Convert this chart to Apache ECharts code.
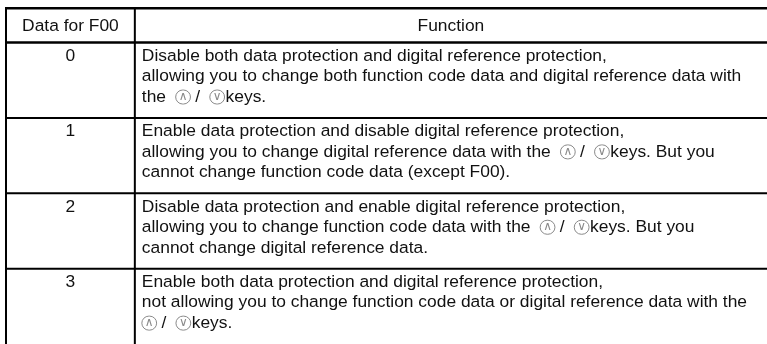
<!DOCTYPE html>
<html>
<head>
<meta charset="utf-8">
<script src="https://cdn.jsdelivr.net/npm/echarts/dist/echarts.min.js"></script>
<style>
html,body{margin:0;padding:0;background:#fff;}
#chart{width:767px;height:344px;}
</style>
</head>
<body>
<div id="chart"></div>
<script>
// ---- table content ----
var headers = ['Data for F00', 'Function'];
var codes = ['0', '1', '2', '3'];
var functionLines = [
  ['Disable both data protection and digital reference protection,',
   'allowing you to change both function code data and digital reference data with',
   'the  {up|∧}{g| /  }{dn|∨}{k|keys.}'],
  ['Enable data protection and disable digital reference protection,',
   'allowing you to change digital reference data with the  {up|∧}{g| /  }{dn|∨}{k|keys. But you}',
   'cannot change function code data (except F00).'],
  ['Disable data protection and enable digital reference protection,',
   'allowing you to change function code data with the  {up|∧}{g| /  }{dn|∨}{k|keys. But you}',
   'cannot change digital reference data.'],
  ['Enable both data protection and digital reference protection,',
   'not allowing you to change function code data or digital reference data with the',
   '{up|∧}{g| /  }{dn|∨}{k|keys.}']
];

// ---- layout (row units: one body row = 1) ----
var headerUnits = 0.454;
var colSplit = 0.1693;
var FONT = '"Liberation Sans", Arial, Helvetica, sans-serif';
var FS = 17.4;
var LH = 20.5;

var iconStyle = {
  padding: [1, 3, 1, 3], borderRadius: 8, borderColor: '#8a8a8a', borderWidth: 1,
  verticalAlign: 'middle', fontSize: 12, fontFamily: 'DejaVu Sans',
  fill: '#8a8a8a', color: '#8a8a8a', lineHeight: 13
};
var rich = {
  up: Object.assign({}, iconStyle),
  dn: Object.assign({}, iconStyle),
  g: {fontSize: FS, fontFamily: FONT, fill: '#111', color: '#111', lineHeight: LH},
  k: {fontSize: FS, fontFamily: FONT, fill: '#111', color: '#111', lineHeight: LH, padding: [0,0,0,1]}
};

var rowsData = [];
rowsData.push({value: [0, 0, headerUnits], kind: 'header'});
codes.forEach(function (c, i) {
  rowsData.push({value: [i + 1, headerUnits + i, headerUnits + i + 1], kind: 'row'});
});

function renderItem(params, api) {
  var idx = params.dataIndex;
  var item = rowsData[idx];
  var yTop = api.coord([0, item.value[1]])[1];
  var yBot = api.coord([0, item.value[2]])[1];
  var xL = api.coord([0, 0])[0];
  var xD = api.coord([colSplit, 0])[0];
  var xR = api.coord([1, 0])[0];
  var lineStyle = {stroke: '#000', lineWidth: (idx <= 1) ? 2.5 : 2};
  var children = [
    {type: 'line', shape: {x1: xL - 1, y1: yTop, x2: xR, y2: yTop}, style: lineStyle},
    {type: 'line', shape: {x1: xL, y1: yTop, x2: xL, y2: yBot}, style: {stroke: '#000', lineWidth: 2}},
    {type: 'line', shape: {x1: xD, y1: yTop, x2: xD, y2: yBot}, style: {stroke: '#000', lineWidth: 2}}
  ];
  if (item.kind === 'header') {
    var yc = (yTop + yBot) / 2 + 1;
    children.push({type: 'text', style: {text: headers[0], x: (xL + xD) / 2, y: yc,
      align: 'center', verticalAlign: 'middle', fontSize: FS, fontFamily: FONT, fill: '#111'}});
    children.push({type: 'text', style: {text: headers[1], x: (xD + xR) / 2, y: yc,
      align: 'center', verticalAlign: 'middle', fontSize: FS, fontFamily: FONT, fill: '#111'}});
  } else {
    var r = idx - 1;
    children.push({type: 'text', style: {text: codes[r], x: (xL + xD) / 2, y: yTop + 13.5,
      align: 'center', verticalAlign: 'middle', fontSize: FS, fontFamily: FONT, fill: '#111'}});
    children.push({type: 'text', style: {text: functionLines[r].join('\n'), x: xD + 7, y: yTop + 3.25,
      align: 'left', verticalAlign: 'top', fontSize: FS, fontFamily: FONT, fill: '#111',
      lineHeight: LH, rich: rich}});
  }
  return {type: 'group', children: children};
}

var chart = echarts.init(document.getElementById('chart'), null, {renderer: 'canvas'});
chart.setOption({
  animation: false,
  backgroundColor: '#fff',
  grid: {left: 6, right: -7, top: 8.3, bottom: -2.5, containLabel: false},
  xAxis: {type: 'value', min: 0, max: 1, show: false},
  yAxis: {type: 'value', min: 0, max: headerUnits + codes.length, inverse: true, show: false},
  series: [{
    type: 'custom',
    renderItem: renderItem,
    clip: false,
    encode: {x: -1, y: [1, 2]},
    data: rowsData.map(function (d) { return d.value; })
  }]
});
</script>
</body>
</html>
